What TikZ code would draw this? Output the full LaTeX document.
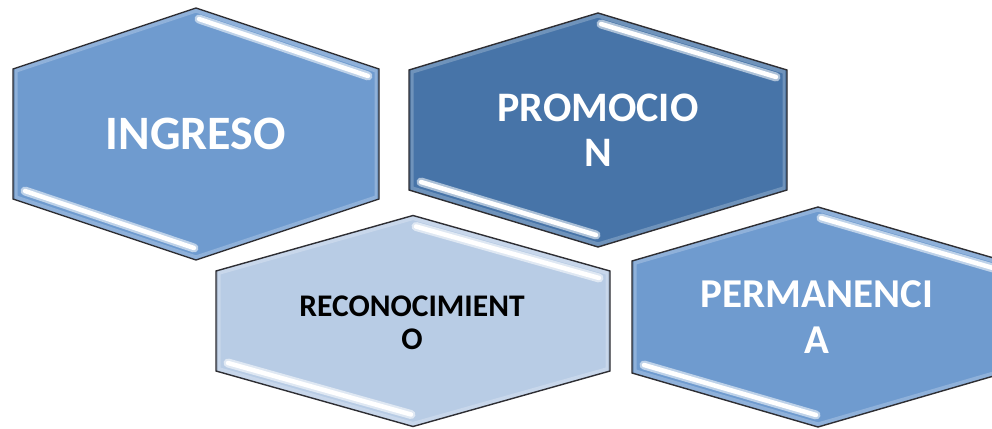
\documentclass[tikz,border=0pt]{standalone}
\usepackage{fontspec}
\setmainfont{Carlito}
\definecolor{cmid}{HTML}{6F9BCF}
\definecolor{cdark}{HTML}{4774A8}
\definecolor{clight}{HTML}{B8CCE5}
\definecolor{edgec}{HTML}{2E2E33}
\tikzset{
  hextext/.style={font=\bfseries, align=center, inner sep=0pt},
}
% #1 cx, #2 cy, #3 half width, #4 half height (vertex), #5 half side, #6 colour
\newcommand\hexshape[6]{%
  \begin{scope}
    \path[clip] (#1,#2-#4) -- (#1+#3,#2-#5) -- (#1+#3,#2+#5) -- (#1,#2+#4) -- (#1-#3,#2+#5) -- (#1-#3,#2-#5) -- cycle;
    \fill[#6] (#1-#3,#2-#4) rectangle (#1+#3,#2+#4);
    \draw[line width=9pt, #6!78!white] (#1,#2-#4) -- (#1+#3,#2-#5) -- (#1+#3,#2+#5) -- (#1,#2+#4) -- (#1-#3,#2+#5) -- (#1-#3,#2-#5) -- cycle;
    \draw[line width=4pt, #6!80!black, opacity=0.6] (#1-#3,#2-#5) -- (#1-#3,#2+#5);
    \draw[line width=4pt, #6!85!black, opacity=0.5] (#1+#3,#2-#5) -- (#1+#3,#2+#5);
    % highlight strips
    \draw[line width=9pt, line cap=round, #6!45!white] (#1+3,#2-#4+11) -- (#1+#3-11,#2-#5+7);
    \draw[line width=4.5pt, line cap=round, white] (#1+3,#2-#4+11) -- (#1+#3-11,#2-#5+7);
    \draw[line width=9pt, line cap=round, #6!45!white] (#1-#3+12,#2+#5-8) -- (#1-2,#2+#4-12);
    \draw[line width=4.5pt, line cap=round, white] (#1-#3+12,#2+#5-8) -- (#1-2,#2+#4-12);
  \end{scope}
  \draw[edgec, line width=1.4pt, line join=miter] (#1,#2-#4) -- (#1+#3,#2-#5) -- (#1+#3,#2+#5) -- (#1,#2+#4) -- (#1-#3,#2+#5) -- (#1-#3,#2-#5) -- cycle;
}
\begin{document}
\begin{tikzpicture}[x=1pt,y=-1pt]
\useasboundingbox (0,0) rectangle (992,428);
\clip (0,0) rectangle (992,428);
\fill[white] (0,0) rectangle (992,428);
\hexshape{196}{134}{183}{126}{65}{cmid}
\hexshape{598}{130}{189}{117}{60}{cdark}
\hexshape{413}{321}{197}{105.5}{50}{clight}
\hexshape{818}{317}{186}{110}{56}{cmid}
\node[hextext, text=white, font=\bfseries\fontsize{48}{52}\selectfont] (ingreso) at (196,134) {INGRESO};
\node[hextext, text=white, font=\bfseries\fontsize{42}{45}\selectfont] (promocion) at (598,130) {PROMOCIO\\N};
\node[hextext, text=black, font=\bfseries\fontsize{31.5}{33}\selectfont] (reconocimiento) at (412,323) {RECONOCIMIENT\\O};
\node[hextext, text=white, font=\bfseries\fontsize{41}{46}\selectfont] (permanencia) at (817,317) {PERMANENCI\\A};
\end{tikzpicture}
\end{document}
